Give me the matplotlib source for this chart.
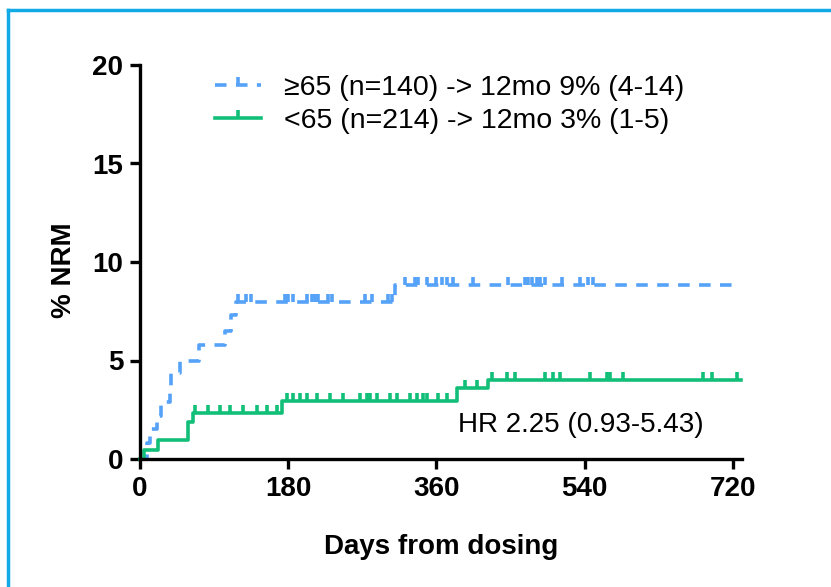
import numpy as np
import matplotlib.pyplot as plt
from matplotlib.lines import Line2D

plt.rcParams['font.family'] = ['Liberation Sans', 'DejaVu Sans']

# step curves (day, % NRM)
old_days = [0, 8, 12, 21, 25, 36, 38, 49, 72, 103, 111, 117, 310, 726]
old_vals = [0, 0.8, 1.5, 2.2, 2.9, 3.6, 4.35, 5.0, 5.8, 6.5, 7.3, 7.95, 8.85, 8.85]
young_days = [0, 5, 22, 58, 64, 172, 385, 423, 730]
young_vals = [0, 0.46, 0.96, 1.9, 2.35, 2.95, 3.6, 4.0, 4.0]

# censored observations (days)
old_cens = [119, 129, 135, 176, 180, 186, 203, 209, 213, 216, 228, 233, 273, 282,
            301, 306, 322, 334, 338, 348, 360, 367, 373, 380, 404, 447, 467, 471,
            476, 482, 486, 492, 512, 534, 544, 550]
young_cens = [67, 83, 97, 109, 125, 142, 154, 166, 178, 186, 194, 203, 215, 231,
              247, 267, 276, 279, 288, 303, 312, 328, 336, 344, 348, 362, 373,
              395, 409, 427, 446, 455, 492, 501, 510, 546, 567, 571, 586, 684, 695, 725]

old_label = '\u226565 (n=140) -> 12mo 9% (4-14)'
young_label = '<65 (n=214) -> 12mo 3% (1-5)'
hr_text = 'HR 2.25 (0.93-5.43)'
xticks = [0, 180, 360, 540, 720]
yticks = [0, 5, 10, 15, 20]

blue = '#55A2F8'
green = '#12BF78'
tick = [(0, 0), (0, 1)]
lw = 2.6


def step_value(days, vals, t):
    i = np.searchsorted(days, t, side='right') - 1
    return np.array(vals)[i]


fig = plt.figure(figsize=(8.31, 5.87), dpi=100)
ax = fig.add_axes([140 / 831, 1 - 459 / 587, 602 / 831, 394 / 587])

ax.step(old_days, old_vals, where='post', color=blue, lw=lw,
        ls=(0, (3.2, 2.6)), clip_on=False)
ax.plot(old_cens, step_value(old_days, old_vals, old_cens), ls='none',
        marker=tick, ms=11, mew=lw, color=blue, clip_on=False)
ax.step(young_days, young_vals, where='post', color=green, lw=lw, clip_on=False)
ax.plot(young_cens, step_value(young_days, young_vals, young_cens), ls='none',
        marker=tick, ms=11, mew=lw, color=green, clip_on=False)

ax.set_xlim(0, 731)
ax.set_ylim(0, 20)
ax.set_xticks(xticks)
ax.set_yticks(yticks)
for s in ['top', 'right']:
    ax.spines[s].set_visible(False)
for s in ['left', 'bottom']:
    ax.spines[s].set_linewidth(2.4)
ax.tick_params(direction='out', length=7, width=2.4, pad=5, labelsize=20)
for lab in ax.get_xticklabels() + ax.get_yticklabels():
    lab.set_fontweight('bold')

ax.set_xlabel('Days from dosing', fontsize=20, fontweight='bold')
ax.set_ylabel('% NRM', fontsize=20, fontweight='bold')
ax.xaxis.set_label_coords(0.5, -0.19)
ax.yaxis.set_label_coords(-0.105, 0.48)

handles = [
    Line2D([], [], color=blue, lw=lw, ls=(0, (3.2, 2.6)), marker=tick, ms=11, mew=lw),
    Line2D([], [], color=green, lw=lw, marker=tick, ms=11, mew=lw),
]
ax.legend(handles, [old_label, young_label], loc='upper left',
          bbox_to_anchor=(0.125, 0.975), frameon=False, fontsize=20.5,
          borderpad=0, borderaxespad=0, handlelength=1.6, handletextpad=0.8,
          labelspacing=0.25, numpoints=1)

ax.text(386, 1.73, hr_text, fontsize=20, ha='left', va='center')

# blue frame (left and top edges)
frame = '#12AAE6'
fig.add_artist(Line2D([8 / 831, 8 / 831], [0, 1 - 10 / 587], color=frame, lw=2.5,
                      transform=fig.transFigure))
fig.add_artist(Line2D([8 / 831, 1], [1 - 10 / 587, 1 - 10 / 587], color=frame, lw=2.5,
                      transform=fig.transFigure))

fig.savefig('out.png', dpi=100)
